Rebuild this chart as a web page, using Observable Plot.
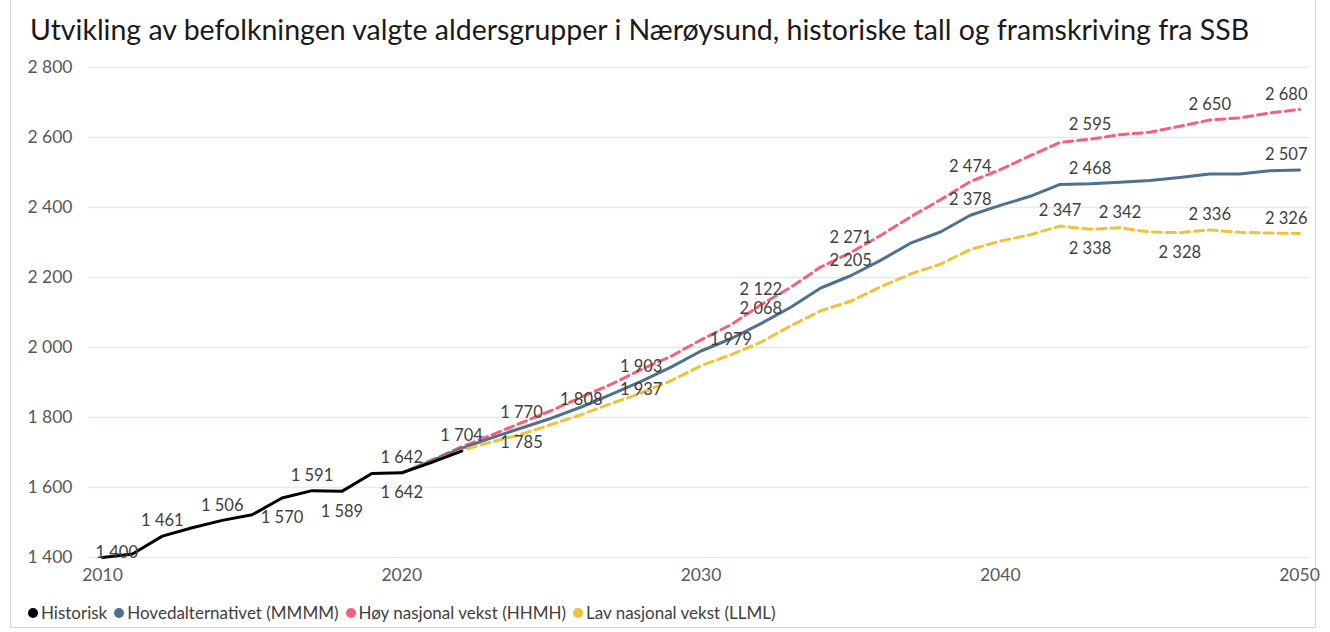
<!DOCTYPE html>
<html>
<head>
<meta charset="utf-8">
<script src="https://cdn.jsdelivr.net/npm/d3@7"></script>
<script src="https://cdn.jsdelivr.net/npm/@observablehq/plot@0.6"></script>
<style>
  html, body { margin: 0; padding: 0; background: #fff; }
  #wrap { position: relative; width: 1330px; height: 632px; font-family: Lato, "Open Sans", sans-serif; overflow: hidden; }
  #frame { position: absolute; left: 10px; top: 0px; width: 1306px; height: 628px; border: 1px solid #d4d4d4; border-top: none; box-sizing: border-box; }
  #title { position: absolute; left: 30px; top: 12px; font-size: 28.5px; color: #1a1a1a; white-space: nowrap; }
  #chart { position: absolute; left: 0; top: 50px; }
  #legend { position: absolute; left: 28px; top: 602px; display: flex; font-size: 17px; color: #404040; white-space: nowrap; }
  .li { display: flex; align-items: center; margin-right: 7px; }
  .dot { width: 10px; height: 10px; border-radius: 50%; margin-right: 3px; }
</style>
</head>
<body>
<div id="wrap">
  <div id="frame"></div>
  <div id="title"></div>
  <div id="chart"></div>
  <div id="legend"></div>
</div>
<script>
const titleText = "Utvikling av befolkningen valgte aldersgrupper i Nærøysund, historiske tall og framskriving fra SSB";

const seriesNames = ["Historisk", "Hovedalternativet (MMMM)", "Høy nasjonal vekst (HHMH)", "Lav nasjonal vekst (LLML)"];
const seriesColors = ["#000000", "#50708f", "#f7607c", "#f0c23a"];

const histYears  = [2010, 2011, 2012, 2013, 2014, 2015, 2016, 2017, 2018, 2019, 2020, 2021, 2022];
const histValues = [1400, 1410, 1461, 1485, 1506, 1522, 1570, 1591, 1589, 1640, 1642, 1672, 1704];

const projYears = [2020, 2021, 2022, 2023, 2024, 2025, 2026, 2027, 2028, 2029, 2030,
                   2031, 2032, 2033, 2034, 2035, 2036, 2037, 2038, 2039, 2040,
                   2041, 2042, 2043, 2044, 2045, 2046, 2047, 2048, 2049, 2050];
const mainValues = [1642, 1676, 1712, 1742, 1770, 1798, 1830, 1866, 1903, 1944, 1990,
                    2025, 2068, 2115, 2170, 2205, 2249, 2298, 2330, 2378, 2406,
                    2432, 2466, 2468, 2472, 2477, 2486, 2496, 2496, 2505, 2507];
const highValues = [1642, 1678, 1716, 1750, 1785, 1820, 1858, 1895, 1937, 1975, 2022,
                    2065, 2122, 2172, 2230, 2271, 2320, 2373, 2422, 2474, 2508,
                    2548, 2586, 2595, 2608, 2615, 2632, 2650, 2656, 2670, 2680];
const lowValues  = [1642, 1672, 1706, 1730, 1752, 1780, 1808, 1840, 1870, 1905, 1948,
                    1979, 2015, 2062, 2105, 2132, 2173, 2210, 2238, 2280, 2304,
                    2322, 2347, 2338, 2342, 2330, 2328, 2336, 2329, 2327, 2326];

const yTicks = [1400, 1600, 1800, 2000, 2200, 2400, 2600, 2800];
const xTicks = [2010, 2020, 2030, 2040, 2050];

// data labels: which series, which year, placement relative to the line
const labelSeries = [0,0,0,0,0,0,0,0, 3,3,3,3,3,3,3,3,3, 1,1,1,1,1,1,1, 2,2,2,2,2,2,2,2];
const labelYears  = [2010,2012,2014,2016,2017,2018,2020,2022,
                     2020,2026,2031,2042,2043,2044,2046,2047,2050,
                     2024,2028,2032,2035,2039,2043,2050,
                     2024,2028,2032,2035,2039,2043,2047,2050];
const labelPlace  = ["on","above","above","below","above","below","above","above",
                     "below","above","above","above","below","above","below","above","above",
                     "above","above","above","above","above","above","above",
                     "below","below","above","above","above","above","above","above"];

const fmt = n => String(n).replace(/\B(?=(\d{3})+(?!\d))/g, "\u00a0");

// build tables
const allYears = [histYears, projYears, projYears, projYears];
const allValues = [histValues, mainValues, highValues, lowValues];
const rows = [];
allValues.forEach((vals, s) => vals.forEach((v, i) => rows.push({s, name: seriesNames[s], year: allYears[s][i], value: v})));
const lookup = (s, yr) => allValues[s][allYears[s].indexOf(yr)];
const labels = labelSeries.map((s, i) => ({s, year: labelYears[i], value: lookup(s, labelYears[i]), place: labelPlace[i]}));

const lineOf = s => rows.filter(d => d.s === s);
const dashed = "9,5";
const LFS = 16.5;
const labelMarks = (place, dy, opts = {}) => Plot.text(labels.filter(d => d.place === place && d.year > 2010 && d.year < 2050), {
  x: "year", y: "value", text: d => fmt(d.value), dy, fill: "#404040", fontSize: LFS, ...opts
});

const plot = Plot.plot({
  width: 1330,
  height: 547,
  marginLeft: 102,
  marginRight: 31,
  marginTop: 17,
  marginBottom: 40,
  style: {fontFamily: "Lato, 'Open Sans', sans-serif", fontSize: "17.5px", color: "#595959", background: "transparent"},
  x: {domain: [2010, 2050], ticks: xTicks, tickFormat: d => String(d), tickSize: 0, tickPadding: 11, label: null},
  y: {domain: [1400, 2800], ticks: yTicks, tickFormat: fmt, tickSize: 0, tickPadding: 30, label: null},
  marks: [
    Plot.ruleY(yTicks, {stroke: "#e6e9ec", strokeWidth: 1.5, insetLeft: -14, insetRight: -10}),
    Plot.axisY({ticks: yTicks, tickFormat: fmt, tickSize: 0, tickPadding: 30, label: null, fill: "#595959", fontSize: 17.5}),
    Plot.axisX({ticks: xTicks, tickFormat: d => String(d), tickSize: 0, tickPadding: 11, label: null, fill: "#595959", fontSize: 17.5}),
    Plot.line(lineOf(2), {x: "year", y: "value", stroke: seriesColors[2], strokeWidth: 3, strokeDasharray: dashed}),
    Plot.line(lineOf(1), {x: "year", y: "value", stroke: seriesColors[1], strokeWidth: 3}),
    Plot.line(lineOf(3), {x: "year", y: "value", stroke: seriesColors[3], strokeWidth: 3, strokeDasharray: dashed}),
    Plot.line(lineOf(0), {x: "year", y: "value", stroke: seriesColors[0], strokeWidth: 3}),
    labelMarks("above", -15),
    labelMarks("below", 20),
    Plot.text(labels.filter(d => d.year === 2010), {x: "year", y: "value", text: d => fmt(d.value), dy: -5, dx: -7, textAnchor: "start", fill: "#404040", fontSize: LFS}),
    Plot.text(labels.filter(d => d.year === 2050 && d.place === "above"), {x: "year", y: "value", text: d => fmt(d.value), dy: -15, dx: 8, textAnchor: "end", fill: "#404040", fontSize: LFS})
  ]
});
document.getElementById("chart").appendChild(plot);
document.getElementById("title").textContent = titleText;

const legend = document.getElementById("legend");
seriesNames.forEach((n, i) => {
  const item = document.createElement("div");
  item.className = "li";
  const dot = document.createElement("div");
  dot.className = "dot";
  dot.style.background = seriesColors[i];
  const t = document.createElement("span");
  t.textContent = n;
  item.appendChild(dot); item.appendChild(t);
  legend.appendChild(item);
});
</script>
</body>
</html>
